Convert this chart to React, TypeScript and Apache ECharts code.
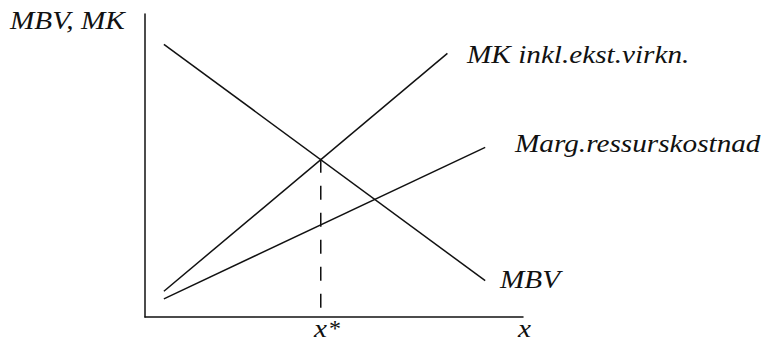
import React, { useEffect, useRef } from "react";
import * as echarts from "echarts";

// Economic diagram data (axis units 0..10)
const mbvLine: [number, number][] = [[0.5, 9.0], [9.0, 1.2]];
const mkInklLine: [number, number][] = [[0.5, 0.85], [8.0, 8.7]];
const margLine: [number, number][] = [[0.5, 0.6], [9.0, 5.6]];
const xStarLine: [number, number][] = [[4.65, 5.22], [4.65, 0.3]];
const seriesNames = ["MBV", "MK inkl.ekst.virkn.", "Marg.ressurskostnad"];
const yAxisTitle = "MBV, MK";
const xAxisTitle = "x";
const xStarLabel = "x";
const starMark = "*";

const FONT = "Liberation Serif";
const INK = "#111";
const FS = 25;
const SX = 1.17;

export default function App() {
  const ref = useRef<HTMLDivElement>(null);
  useEffect(() => {
    if (!ref.current) return;
    const chart = echarts.init(ref.current, undefined, { renderer: "svg" });
    const lineSeries = (name: string, data: [number, number][]) => ({
      type: "line",
      name,
      data,
      symbol: "none",
      silent: true,
      lineStyle: { color: INK, width: 1.5 },
    });
    // text placed by left edge and alphabetic baseline
    const txt = (text: string, x: number, baseline: number, size = FS, italic = true, sx = SX) => ({
      type: "text",
      x,
      y: baseline - 0.3375 * size,
      scaleX: sx,
      silent: true,
      style: {
        text,
        fill: INK,
        fontFamily: FONT,
        fontStyle: italic ? "italic" : "normal",
        fontSize: size,
        align: "left",
        verticalAlign: "middle",
      },
    });
    chart.setOption({
      animation: false,
      grid: { left: 145, top: 14, right: 239, bottom: 26 },
      xAxis: {
        type: "value",
        min: 0,
        max: 10,
        axisLine: { show: true, lineStyle: { color: INK, width: 1.5 } },
        axisTick: { show: false },
        axisLabel: { show: false },
        splitLine: { show: false },
      },
      yAxis: {
        type: "value",
        min: 0,
        max: 10,
        axisLine: { show: true, lineStyle: { color: INK, width: 1.5 } },
        axisTick: { show: false },
        axisLabel: { show: false },
        splitLine: { show: false },
      },
      series: [
        lineSeries(seriesNames[0], mbvLine),
        lineSeries(seriesNames[1], mkInklLine),
        lineSeries(seriesNames[2], margLine),
        {
          type: "line",
          data: xStarLine,
          symbol: "none",
          silent: true,
          lineStyle: { color: INK, width: 1.5, type: [14, 13] },
        },
      ],
      graphic: [
        txt(yAxisTitle, 10, 29.3),
        txt(seriesNames[1], 467, 63.3),
        txt(seriesNames[2], 515, 152),
        txt(seriesNames[0], 500, 288.3),
        txt(xAxisTitle, 518, 337.5),
        txt(xStarLabel, 314, 337.5),
        txt(starMark, 329, 336, 24, false, 1),
      ],
    });
    return () => chart.dispose();
  }, []);
  return (
    <div
      ref={ref}
      style={{ position: "absolute", left: 0, top: 0, width: 762, height: 343 }}
    />
  );
}
